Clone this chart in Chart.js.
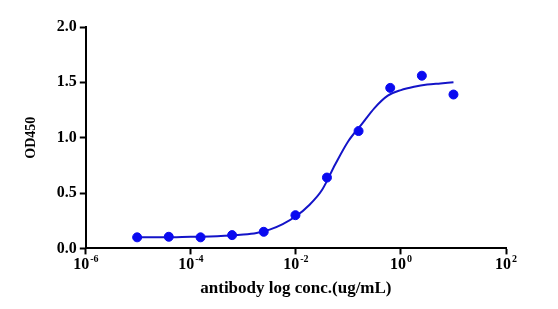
<!DOCTYPE html>
<html>
<head>
<meta charset="utf-8">
<script src="https://cdn.jsdelivr.net/npm/chart.js@4"></script>
<style>
  html, body { margin: 0; padding: 0; background: #fff; }
  #wrap { width: 558px; height: 309px; }
</style>
</head>
<body>
<div id="wrap"><canvas id="odChart"></canvas></div>
<script>
// measured points (4-fold dilution from 10 ug/mL)
const conc = [10, 2.5, 0.625, 0.156, 0.039, 0.0098, 0.00244, 0.00061, 0.000153, 0.000038, 0.0000095];
const od = [1.39, 1.56, 1.45, 1.06, 0.64, 0.30, 0.15, 0.12, 0.10, 0.105, 0.10];

// fitted curve
const curveConc = [0.0000095, 0.0000316, 0.0001, 0.000316, 0.001, 0.00178, 0.00316, 0.00562, 0.01, 0.0178, 0.0316, 0.0562, 0.1, 0.178, 0.316, 0.562, 1, 1.78, 3.16, 5.62, 10];
const curveOd = [0.10, 0.10, 0.105, 0.11, 0.125, 0.14, 0.17, 0.22, 0.29, 0.39, 0.53, 0.76, 0.97, 1.12, 1.27, 1.38, 1.43, 1.46, 1.48, 1.49, 1.50];

const xTicks = [1e-6, 1e-4, 1e-2, 1e0, 1e2];
const yTicks = [0, 0.5, 1.0, 1.5, 2.0];

const serif = '"Liberation Serif", "Times New Roman", serif';
const tickFont = { family: serif, size: 16, weight: 'bold' };

// x labels drawn as 10 with a raised exponent
const powerLabels = {
  id: 'powerLabels',
  afterDraw(chart) {
    const xs = chart.scales.x;
    const ctx = chart.ctx;
    ctx.save();
    ctx.fillStyle = '#000';
    ctx.textBaseline = 'alphabetic';
    ctx.textAlign = 'left';
    xTicks.forEach(v => {
      const base = '10';
      const exp = String(Math.round(Math.log10(v)));
      ctx.font = 'bold 16px ' + serif;
      const wb = ctx.measureText(base).width;
      ctx.font = 'bold 10px ' + serif;
      const we = ctx.measureText(exp).width;
      const x0 = xs.getPixelForValue(v) - (wb + we + 1) / 2;
      const y0 = xs.top + 21;
      ctx.font = 'bold 16px ' + serif;
      ctx.fillText(base, x0, y0);
      ctx.font = 'bold 10px ' + serif;
      ctx.fillText(exp, x0 + wb + 1, y0 - 7);
    });
    ctx.restore();
  }
};

new Chart(document.getElementById('odChart'), {
  type: 'scatter',
  data: {
    datasets: [{
      data: conc.map((c, i) => ({ x: c, y: od[i] })),
      backgroundColor: '#0a0af0',
      borderColor: '#0a0af0',
      pointRadius: 4.5,
      showLine: false
    }, {
      data: curveConc.map((c, i) => ({ x: c, y: curveOd[i] })),
      borderColor: '#1414c8',
      backgroundColor: 'transparent',
      borderWidth: 2,
      pointRadius: 0,
      showLine: true,
      cubicInterpolationMode: 'monotone'
    }]
  },
  options: {
    responsive: true,
    maintainAspectRatio: false,
    animation: false,
    layout: {
      padding: { top: 27, right: 52, bottom: 6, left: 19 }
    },
    plugins: {
      legend: { display: false },
      tooltip: { enabled: false }
    },
    scales: {
      x: {
        type: 'logarithmic',
        min: 1e-6,
        max: 1e2,
        afterBuildTicks: axis => { axis.ticks = xTicks.map(v => ({ value: v })); },
        grid: { drawOnChartArea: false, drawTicks: true, tickLength: 6, tickWidth: 2, tickColor: '#000' },
        border: { color: '#000', width: 2 },
        ticks: {
          color: 'rgba(0,0,0,0)', font: tickFont, padding: 2, maxRotation: 0,
          callback: v => '10' + Math.round(Math.log10(v))
        },
        title: { display: true, text: 'antibody log conc.(ug/mL)', color: '#000', font: { family: serif, size: 17, weight: 'bold' }, padding: { top: 1 } }
      },
      y: {
        min: 0,
        max: 2,
        afterBuildTicks: axis => { axis.ticks = yTicks.map(v => ({ value: v })); },
        grid: { drawOnChartArea: false, drawTicks: true, tickLength: 6, tickWidth: 2, tickColor: '#000' },
        border: { color: '#000', width: 2 },
        ticks: {
          color: '#000', font: tickFont, padding: 3,
          callback: v => Number(v).toFixed(1)
        },
        title: { display: true, text: 'OD450', color: '#000', font: { family: serif, size: 14, weight: 'bold' }, padding: { bottom: 14 } }
      }
    }
  },
  plugins: [powerLabels]
});
</script>
</body>
</html>
